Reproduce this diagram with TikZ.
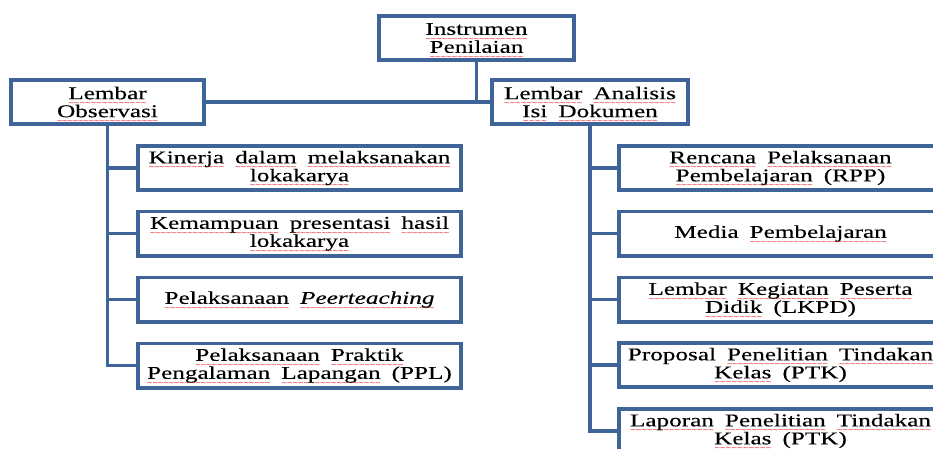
\documentclass[tikz,border=0pt]{standalone}
\usepackage{fontspec}
\setmainfont{Liberation Serif}[FakeStretch=1.4,FakeBold=0.3]
\newfontfamily\wavefont{DejaVu Sans}
\definecolor{lineblue}{HTML}{3F6598}
\definecolor{wavered}{HTML}{F03030}
\newcommand\sq[1]{\leavevmode\setbox0\hbox{#1}\rlap{\raisebox{-6.5pt}[0pt][0pt]{\color{wavered}\wavefont\fontsize{7.5}{7.5}\selectfont\xleaders\hbox{\kern-0.5pt\char"7E\kern-0.5pt}\hskip\wd0}}\box0\relax}
\newcommand\boxfont{\fontsize{18}{18}\selectfont\spaceskip=11pt plus 2pt minus 2pt\relax}
\begin{document}
\begin{tikzpicture}[x=1pt,y=-1pt,
  box/.style={draw=lineblue, line width=3.6pt, fill=white, inner sep=0pt,
    align=center, font=\boxfont, text=black, minimum height=44.4pt},
  topbox/.style={box, minimum width=195pt},
  itembox/.style={box, minimum width=323.4pt},
  conn/.style={draw=lineblue, line width=3.6pt}]
\useasboundingbox (0,0) rectangle (933,448);
\clip (0,0) rectangle (933,448);

\node[topbox] (root) at (476.5,38) {\sq{Instrumen}\\\sq{Penilaian}};
\node[topbox, minimum width=193.4pt] (obs) at (107.5,102) {\sq{Lembar}\\\sq{Observasi}};
\node[topbox, minimum width=196.4pt] (ana) at (590,102) {\sq{Lembar} \sq{Analisis}\\\sq{Isi} \sq{Dokumen}};

\node[itembox] (l1) at (299.5,168) {\sq{Kinerja} \sq{dalam} \sq{melaksanakan}\\\sq{lokakarya}};
\node[itembox] (l2) at (299.5,233.5) {\sq{Kemampuan} \sq{presentasi} \sq{hasil}\\\sq{lokakarya}};
\node[itembox] (l3) at (299.5,299.5) {\sq{Pelaksanaan} \sq{\textit{Peerteaching}}};
\node[itembox] (l4) at (299.5,365.5) {\sq{Pelaksanaan} \sq{Praktik}\\\sq{Pengalaman} \sq{Lapangan} (PPL)};

\node[itembox] (r1) at (780.5,168) {\sq{Rencana} \sq{Pelaksanaan}\\\sq{Pembelajaran} (RPP)};
\node[itembox] (r2) at (780.5,233.5) {Media \sq{Pembelajaran}};
\node[itembox] (r3) at (780.5,299.5) {\sq{Lembar} \sq{Kegiatan} \sq{Peserta}\\\sq{Didik} (LKPD)};
\node[itembox] (r4) at (780.5,365) {Proposal \sq{Penelitian} \sq{Tindakan}\\\sq{Kelas} (PTK)};
\node[itembox] (r5) at (780.5,431) {\sq{Laporan} \sq{Penelitian} \sq{Tindakan}\\\sq{Kelas} (PTK)};

\draw[conn] (root.south) -- (root.south |- obs.east);
\draw[conn] (obs.east) -- (ana.west);
\draw[conn] (obs.south) -- (obs.south |- l4.west) -- (l4.west);
\foreach \n in {l1,l2,l3} \draw[conn] (obs.south |- \n.west) -- (\n.west);
\draw[conn] (ana.south) -- (ana.south |- r5.west) -- (r5.west);
\foreach \n in {r1,r2,r3,r4} \draw[conn] (ana.south |- \n.west) -- (\n.west);
\end{tikzpicture}
\end{document}
